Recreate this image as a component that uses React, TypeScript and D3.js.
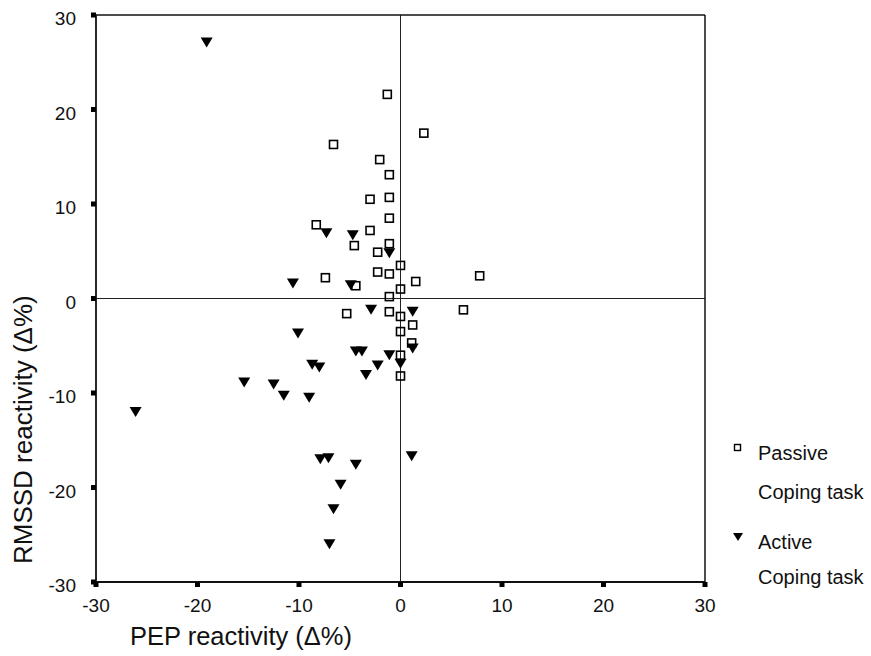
import React from "react";
import * as d3 from "d3";

const passiveX = [-1.3, -6.6, -2.05, -1.1, -3.0, -1.1, -1.1, -8.3, -3.0, -4.55, -1.1, -2.25, 0, -2.25, -1.1, -7.4, -4.4, 0, -1.1, 2.3, 1.5, 7.8, 6.2, -5.3, -1.1, 0, 1.2, 0, 1.1, 0, 0];
const passiveY = [21.6, 16.3, 14.7, 13.1, 10.5, 10.7, 8.5, 7.8, 7.2, 5.6, 5.8, 4.9, 3.5, 2.8, 2.6, 2.2, 1.35, 1.0, 0.2, 17.5, 1.8, 2.4, -1.2, -1.6, -1.4, -1.9, -2.8, -3.5, -4.7, -6.0, -8.2];

const activeX = [-19.1, -7.3, -4.7, -1.1, -10.6, -4.9, -2.9, 1.2, -10.1, -4.4, -3.8, -1.1, 0, 1.2, -2.25, -8.7, -8.0, -3.4, -15.4, -12.5, -11.5, -9.0, -26.1, -7.9, -7.1, -4.4, -5.9, -6.6, -7.0, 1.1];
const activeY = [27.1, 6.9, 6.7, 4.8, 1.6, 1.4, -1.2, -1.4, -3.7, -5.6, -5.6, -6.0, -6.9, -5.3, -7.1, -7.0, -7.3, -8.1, -8.9, -9.1, -10.3, -10.5, -12.0, -17.0, -16.9, -17.6, -19.7, -22.3, -26.0, -16.7];

const xTicks = [-30, -20, -10, 0, 10, 20, 30];
const yTicks = [30, 20, 10, 0, -10, -20, -30];
const xTitle = "PEP reactivity (\u0394%)";
const yTitle = "RMSSD reactivity (\u0394%)";
const legendLabels = [["Passive", "Coping task"], ["Active", "Coping task"]];

const W = 871;
const H = 656;
const left = 96, right = 705, top = 15, bottom = 582;
const FONT = "'Liberation Sans', Arial, sans-serif";

export default function App() {
  const x = d3.scaleLinear().domain([-30, 30]).range([left, right]);
  const y = d3.scaleLinear().domain([-30, 30]).range([bottom, top]);

  const tri = (cx: number, cy: number, w: number, h: number) =>
    `M${cx - w / 2},${cy - h / 2}L${cx + w / 2},${cy - h / 2}L${cx},${cy + h / 2}Z`;

  return (
    <svg width={W} height={H} style={{ position: "absolute", left: 0, top: 0, background: "#fff" }} fontFamily={FONT}>
      <rect x={0} y={0} width={W} height={H} fill="#fff" />
      {/* reference lines */}
      <line x1={x(0)} x2={x(0)} y1={top} y2={bottom} stroke="#222" strokeWidth={1} />
      <line x1={left} x2={right} y1={y(0)} y2={y(0)} stroke="#222" strokeWidth={1} />
      {/* frame */}
      <line x1={left} x2={right} y1={top} y2={top} stroke="#111" strokeWidth={1.3} />
      <line x1={right} x2={right} y1={top} y2={bottom} stroke="#111" strokeWidth={1.5} />
      <line x1={left} x2={left} y1={top} y2={bottom} stroke="#111" strokeWidth={1.8} />
      <line x1={left} x2={right} y1={bottom} y2={bottom} stroke="#111" strokeWidth={1.8} />
      {/* ticks */}
      {yTicks.map((t) => (
        <g key={"y" + t}>
          <rect x={left - 5} y={y(t) - 2.5} width={5} height={5} fill="#000" />
          <text x={76} y={y(t) + 10} fontSize={19} textAnchor="end" fill="#111">{t}</text>
        </g>
      ))}
      {xTicks.map((t) => (
        <g key={"x" + t}>
          <rect x={x(t) - 2.5} y={bottom} width={5} height={5} fill="#000" />
          <text x={x(t)} y={612} fontSize={19} textAnchor="middle" fill="#111">{t}</text>
        </g>
      ))}
      {/* titles */}
      <text x={130} y={645} fontSize={25.5} fill="#111">{xTitle}</text>
      <text transform={`translate(32,564) rotate(-90)`} fontSize={26} fill="#111">{yTitle}</text>
      {/* passive squares */}
      {passiveX.map((v, i) => (
        <rect key={"p" + i} x={x(v) - 4} y={y(passiveY[i]) - 4} width={8} height={8} fill="none" stroke="#000" strokeWidth={1.6} />
      ))}
      {/* active triangles */}
      {activeX.map((v, i) => (
        <path key={"a" + i} d={tri(x(v), y(activeY[i]), 12, 10)} fill="#000" />
      ))}
      {/* legend */}
      <rect x={734.5} y={444.5} width={6} height={6} fill="none" stroke="#000" strokeWidth={1.4} />
      <path d={tri(738, 537, 10, 8)} fill="#000" />
      <text x={758} y={459.5} fontSize={20} fill="#111">{legendLabels[0][0]}</text>
      <text x={758} y={498.5} fontSize={20} fill="#111">{legendLabels[0][1]}</text>
      <text x={758} y={548.5} fontSize={20} fill="#111">{legendLabels[1][0]}</text>
      <text x={758} y={583.5} fontSize={20} fill="#111">{legendLabels[1][1]}</text>
    </svg>
  );
}
